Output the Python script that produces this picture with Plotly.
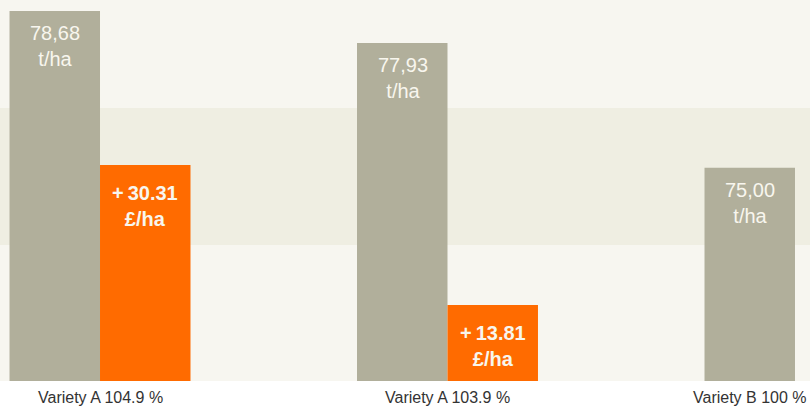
import plotly.graph_objects as go

categories = ["Variety A 104.9 %", "Variety A 103.9 %", "Variety B 100 %"]
yield_values = [78.68, 77.93, 75.00]
yield_labels = ["78,68<br>t/ha", "77,93<br>t/ha", "75,00<br>t/ha"]
gain_categories = ["Variety A 104.9 %", "Variety A 103.9 %"]
gain_values = [30.31, 13.81]
gain_labels = ["<b>+\u200930.31<br>£/ha</b>", "<b>+\u200913.81<br>£/ha</b>"]

YIELD_BASE = 70
GAIN_BASE = 4.853

GREY = "#b1af9b"
ORANGE = "#ff6b00"
BG = "#f7f6f0"
BAND = "#efeee2"
TXT = "#f8f6ee"
BAR_W = 0.2604
PX_HALF = 45
LABEL_FONT = "Liberation Sans, Arial, sans-serif"

fig = go.Figure()
fig.add_trace(go.Bar(x=categories, y=[v - YIELD_BASE for v in yield_values], base=YIELD_BASE,
                     width=BAR_W, offset=-BAR_W,
                     marker=dict(color=GREY, line=dict(width=0)), hoverinfo="skip"))
fig.add_trace(go.Bar(x=gain_categories, y=[v - GAIN_BASE for v in gain_values], base=GAIN_BASE,
                     width=BAR_W, offset=0, yaxis="y2",
                     marker=dict(color=ORANGE, line=dict(width=0)), hoverinfo="skip"))

annotations = []
for c, v, t in zip(categories, yield_values, yield_labels):
    annotations.append(dict(x=c, y=v, xref="x", yref="y", text=t, showarrow=False,
                            xshift=-PX_HALF, yanchor="top", yshift=-9,
                            font=dict(family=LABEL_FONT, size=20, color=TXT)))
for c, v, t in zip(gain_categories, gain_values, gain_labels):
    annotations.append(dict(x=c, y=v, xref="x", yref="y2", text=t, showarrow=False,
                            xshift=PX_HALF, yanchor="top", yshift=-15,
                            font=dict(family=LABEL_FONT, size=20, color=TXT)))
for i, c in enumerate(categories):
    if i < len(categories) - 1:
        annotations.append(dict(x=c, y=0, xref="x", yref="paper", text=c, showarrow=False,
                                xanchor="center", yanchor="top", yshift=-6,
                                font=dict(family=LABEL_FONT, size=16, color="#333333")))
    else:
        annotations.append(dict(x=1, y=0, xref="paper", yref="paper", text=c, showarrow=False,
                                xanchor="right", yanchor="top", yshift=-6, xshift=-1,
                                font=dict(family=LABEL_FONT, size=16, color="#333333")))

fig.update_layout(
    width=810, height=412,
    margin=dict(l=0, r=0, t=0, b=31, autoexpand=False),
    paper_bgcolor="white", plot_bgcolor=BG,
    showlegend=False,
    xaxis=dict(type="category", range=[-0.2878, 2.0432], showticklabels=False,
               showgrid=False, zeroline=False, showline=False, ticks=""),
    yaxis=dict(range=[YIELD_BASE, 78.937], visible=False, showgrid=False, zeroline=False),
    yaxis2=dict(range=[GAIN_BASE, 49.757], overlaying="y", visible=False, showgrid=False, zeroline=False),
    shapes=[dict(type="rect", xref="paper", yref="paper", x0=0, x1=1, y0=0.357, y1=0.7165,
                 fillcolor=BAND, line=dict(width=0), layer="below")],
    annotations=annotations,
)

fig.write_html("out.html", config={"displayModeBar": False},
               post_script="document.body.style.margin='0';document.body.style.padding='0';")
